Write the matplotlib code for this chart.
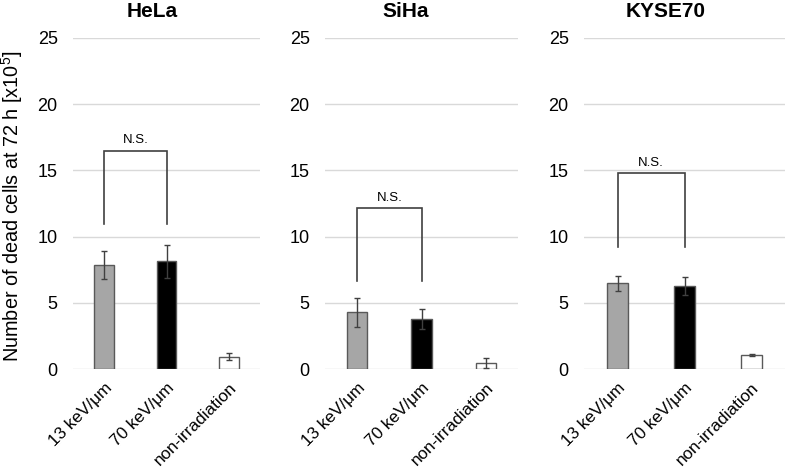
import matplotlib
matplotlib.use("Agg")
import matplotlib.pyplot as plt

plt.rcParams["font.family"] = ["Liberation Sans", "DejaVu Sans"]

cell_lines = ["HeLa", "SiHa", "KYSE70"]
groups = ["13 keV/\u03bcm", "70 keV/\u03bcm", "non-irradiation"]

hela_mean = [7.85, 8.15, 0.93]
hela_sd = [1.05, 1.25, 0.25]
siha_mean = [4.27, 3.80, 0.48]
siha_sd = [1.07, 0.75, 0.37]
kyse_mean = [6.47, 6.29, 1.03]
kyse_sd = [0.56, 0.67, 0.08]

# N.S. bracket: top height and leg bottom for each panel
ns_top = [16.5, 12.16, 14.77]
ns_leg_bottom = [10.95, 6.62, 9.2]

yticks = [0, 5, 10, 15, 20, 25]

means = [hela_mean, siha_mean, kyse_mean]
sds = [hela_sd, siha_sd, kyse_sd]

W, H = 785, 473
fig = plt.figure(figsize=(W / 100, H / 100), dpi=100)

# panel extents in pixels (left, width)
panels_px = [(73, 187), (325, 193), (584, 201)]
title_x_px = [152, 406, 666]
ax_bottom = (H - 369) / H
ax_height = (369 - 38) / H

bar_colors = ["#a6a6a6", "#000000", "#ffffff"]
edge = "#595959"

for i, name in enumerate(cell_lines):
    left, width = panels_px[i]
    ax = fig.add_axes([left / W, ax_bottom, width / W, ax_height])
    x = list(range(len(groups)))
    ax.bar(x, means[i], width=0.32, color=bar_colors, edgecolor=edge,
           linewidth=1.0, zorder=3)
    ax.errorbar(x, means[i], yerr=sds[i], fmt="none", ecolor="#404040",
                elinewidth=1.0, capsize=2.2, capthick=1.0, zorder=4)

    ax.set_xlim(-0.5, 2.5)
    ax.set_ylim(0, 25)
    ax.set_yticks(yticks)
    ax.set_xticks(x)
    ax.set_xticklabels(groups, rotation=45, ha="right", va="top",
                       rotation_mode="anchor", fontsize=12.3)
    ax.tick_params(axis="y", length=0, pad=11, labelsize=13)
    ax.tick_params(axis="x", length=0, pad=8)
    ax.grid(axis="y", color="#d9d9d9", linewidth=1.0, zorder=0)
    for s in ax.spines.values():
        s.set_visible(False)

    # N.S. bracket
    ax.plot([0, 0, 1, 1], [ns_leg_bottom[i], ns_top[i], ns_top[i], ns_leg_bottom[i]],
            color="#404040", linewidth=1.2, zorder=5, solid_joinstyle="miter")
    ax.annotate("N.S.", xy=(0.5, ns_top[i]), xytext=(0, 3),
                textcoords="offset points", ha="center", va="bottom", fontsize=9.5)

    fig.text(title_x_px[i] / W, (H - 17) / H, name, ha="center", va="baseline",
             fontsize=15, fontweight="bold")

fig.text(12 / W, 0.563, r"Number of dead cells at 72 h [x10$^{\mathregular{5}}$]",
         rotation=90, ha="center", va="center", fontsize=14.3)

fig.savefig("out.png", dpi=100)
